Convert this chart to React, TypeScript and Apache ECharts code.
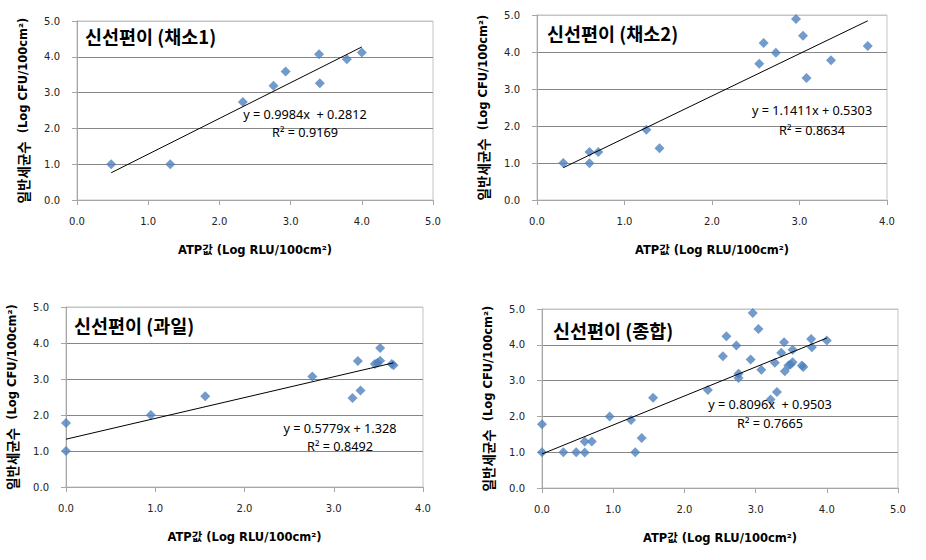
import React, { useEffect, useRef } from "react";
import * as echarts from "echarts";

// ---- data ----
const veg1X = [0.48, 1.31, 2.33, 2.76, 2.93, 3.40, 3.41, 3.79, 4.0];
const veg1Y = [1.0, 1.0, 2.74, 3.19, 3.59, 4.07, 3.26, 3.93, 4.12];

const veg2X = [0.30, 0.60, 0.60, 0.70, 1.25, 1.40, 2.54, 2.59, 2.73, 2.96, 3.04, 3.08, 3.36, 3.78];
const veg2Y = [1.0, 1.30, 0.99, 1.30, 1.90, 1.40, 3.68, 4.24, 3.98, 4.89, 4.44, 3.30, 3.78, 4.16];

const fruitX = [0, 0, 0.95, 1.56, 2.76, 3.21, 3.27, 3.30, 3.46, 3.49, 3.52, 3.52, 3.65, 3.67];
const fruitY = [1.78, 1.0, 2.0, 2.52, 3.07, 2.47, 3.50, 2.68, 3.42, 3.45, 3.86, 3.51, 3.42, 3.38];

const titles = ["신선편이 (채소1)", "신선편이 (채소2)", "신선편이 (과일)", "신선편이 (종합)"];
const slopes = [0.9984, 1.1411, 0.5779, 0.8096];
const intercepts = [0.2812, 0.5303, 1.328, 0.9503];
const equations = ["y = 0.9984x  + 0.2812", "y = 1.1411x + 0.5303", "y = 0.5779x + 1.328", "y = 0.8096x  + 0.9503"];
const r2Labels = ["R² = 0.9169", "R² = 0.8634", "R² = 0.8492", "R² = 0.7665"];
const xMaxes = [5, 4, 4, 5];
const yMax = 5;
const xAxisTitle = "ATP값 (Log RLU/100cm²)";
const yAxisTitleKo = "일반세균수";
const yAxisTitleUnit = "  (Log CFU/100cm²)";

const allX = [...veg1X, ...veg2X, ...fruitX];
const allY = [...veg1Y, ...veg2Y, ...fruitY];
const xs = [veg1X, veg2X, fruitX, allX];
const ys = [veg1Y, veg2Y, fruitY, allY];

// ---- layout ----
const grids = [
  { left: 77, top: 21, width: 356, height: 179 },
  { left: 537, top: 15, width: 350, height: 185 },
  { left: 66, top: 307, width: 357, height: 180 },
  { left: 542, top: 309, width: 356, height: 179 },
];
const titlePos = [
  [85, 36],
  [547, 33],
  [74, 325],
  [553, 330],
];
const eqPos = [
  [305, 114, 132],
  [812, 110, 130],
  [340, 428, 446],
  [770, 404, 423],
];

const FONT = "'DejaVu Sans', 'Noto Sans CJK KR', sans-serif";
const KFONT = "'Noto Sans CJK KR', 'DejaVu Sans', sans-serif";
const MARKER = "#4F81BD";

export default function App() {
  const ref = useRef<HTMLDivElement>(null);
  useEffect(() => {
    document.body.style.margin = "0";
    const chart = echarts.init(ref.current!, undefined, { renderer: "svg" });
    const series: any[] = [];
    const graphic: any[] = [];
    for (let i = 0; i < 4; i++) {
      const pts = xs[i].map((x, k) => [x, ys[i][k]]);
      series.push({
        type: "scatter",
        xAxisIndex: i,
        yAxisIndex: i,
        data: pts,
        symbol: "diamond",
        symbolSize: 10,
        itemStyle: { color: MARKER },
        z: 2,
      });
      const x0 = Math.min(...xs[i]);
      const x1 = Math.max(...xs[i]);
      series.push({
        type: "line",
        xAxisIndex: i,
        yAxisIndex: i,
        data: [
          [x0, slopes[i] * x0 + intercepts[i]],
          [x1, slopes[i] * x1 + intercepts[i]],
        ],
        showSymbol: false,
        symbol: "none",
        lineStyle: { color: "#000", width: 1 },
        z: 3,
      });
      graphic.push({
        type: "text",
        x: titlePos[i][0],
        y: titlePos[i][1],
        z: 10,
        style: {
          text: titles[i],
          font: `bold 18.5px ${KFONT}`,
          fill: "#000",
          textAlign: "left",
          textVerticalAlign: "middle",
        },
      });
      graphic.push({
        type: "text",
        x: eqPos[i][0],
        y: eqPos[i][1],
        z: 10,
        style: {
          text: equations[i],
          font: `12.7px 'Noto Sans', sans-serif`,
          fill: "#000",
          textAlign: "center",
          textVerticalAlign: "middle",
        },
      });
      graphic.push({
        type: "text",
        x: eqPos[i][0],
        y: eqPos[i][2],
        z: 10,
        style: {
          text: r2Labels[i],
          font: `12.7px 'Noto Sans', sans-serif`,
          fill: "#000",
          textAlign: "center",
          textVerticalAlign: "middle",
        },
      });
    }
    const option: any = {
      animation: false,
      backgroundColor: "#fff",
      grid: grids.map((g) => ({ ...g, show: true, borderColor: "#c4c4c4", borderWidth: 1 })),
      xAxis: xMaxes.map((m, i) => ({
        type: "value",
        gridIndex: i,
        min: 0,
        max: m,
        interval: 1,
        name: xAxisTitle,
        nameLocation: "middle",
        nameGap: 44,
        nameTextStyle: { fontFamily: FONT, fontWeight: "bold", fontSize: 11.5, color: "#000" },
        axisLine: { show: true, lineStyle: { color: "#a6a6a6" } },
        axisTick: { show: true, length: 5, lineStyle: { color: "#a6a6a6" } },
        axisLabel: { margin: 16, fontFamily: FONT, fontSize: 10, color: "#222", formatter: (v: number) => v.toFixed(1) },
        splitLine: { show: false },
      })),
      yAxis: xMaxes.map((_, i) => ({
        type: "value",
        gridIndex: i,
        min: 0,
        max: yMax,
        interval: 1,
        name: `{k|${yAxisTitleKo}}${yAxisTitleUnit}`,
        nameLocation: "middle",
        nameGap: 47,
        nameTextStyle: {
          fontFamily: FONT,
          fontWeight: "bold",
          fontSize: 11.5,
          color: "#000",
          rich: { k: { fontFamily: KFONT, fontWeight: "bold", fontSize: 13.5, color: "#000" } },
        },
        axisLine: { show: true, lineStyle: { color: "#a6a6a6" } },
        axisTick: { show: true, length: 5, lineStyle: { color: "#a6a6a6" } },
        axisLabel: { margin: 17, fontFamily: FONT, fontSize: 10, color: "#222", formatter: (v: number) => v.toFixed(1) },
        splitLine: {
          show: true,
          lineStyle: { color: ["#a6a6a6", "#868686", "#868686", "#868686", "#868686", "#c4c4c4"], width: 1 },
        },
      })),
      series,
      graphic,
    };
    chart.setOption(option);
    return () => chart.dispose();
  }, []);
  return <div ref={ref} style={{ position: "absolute", left: 0, top: 0, width: 926, height: 560 }} />;
}
